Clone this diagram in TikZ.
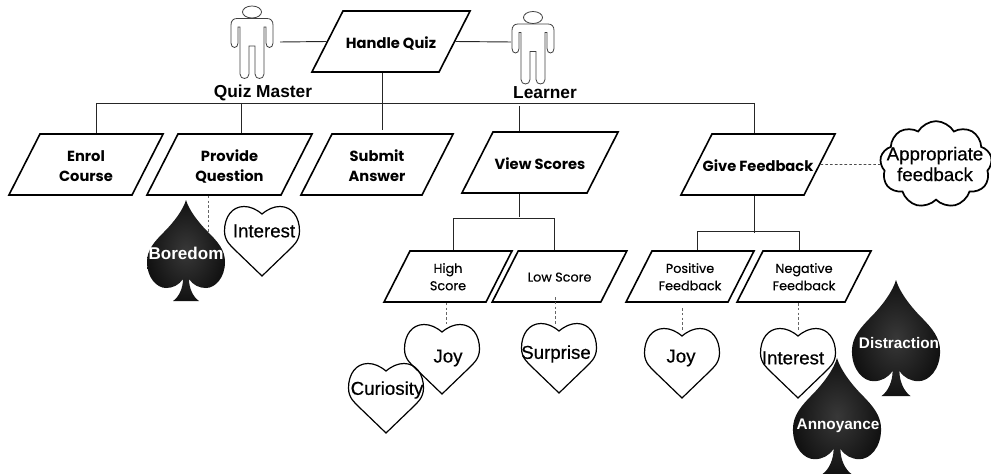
\documentclass[tikz,border=0pt]{standalone}
\usepackage{fontspec}
\setmainfont{Liberation Sans}
\newfontfamily\quizfont{Poppins}
\newfontfamily\smallfont[FakeBold=0.4]{Poppins}
\newfontfamily\emofont[FakeBold=0.5]{Liberation Sans}
\usetikzlibrary{shapes.geometric,shapes.symbols}

% fixed size body, so that all slanted sides stay alike
\newcommand{\casebody}[4]{\parbox[c][#2][c]{#1}{\vspace*{#3}\makebox[#1][c]{\begin{tabular}{@{}c@{}}#4\end{tabular}}}}
\newcommand{\bigbody}[2]{\casebody{#1}{45.75pt}{4.8pt}{#2}}
\newcommand{\smallbody}[2]{\casebody{#1}{38.25pt}{2.4pt}{#2}}

\tikzset{
  usecase/.style={trapezium,draw,line width=1.2pt,trapezium left angle=63,trapezium right angle=117,inner sep=0pt},
  bigcase/.style={usecase,font=\quizfont\bfseries\fontsize{11}{15}\selectfont},
  smallcase/.style={usecase,font=\smallfont\fontsize{9.6}{13}\selectfont},
  wire/.style={draw,line width=0.7pt,black!85},
  dashline/.style={draw,line width=0.7pt,black!60,dash pattern=on 2pt off 1.6pt},
  rolelabel/.style={font=\bfseries\fontsize{13}{15}\selectfont},
  emotext/.style={font=\emofont\fontsize{14}{16}\selectfont},
  whitetext/.style={text=white,font=\bfseries\fontsize{11.5}{14}\selectfont},
  actorman/.pic={
    \draw[black!75,line width=0.6pt] (0,0) ellipse (9.5 and 6);
    \draw[black!75,line width=0.6pt] (-15,6.5) -- (15,6.5) .. controls (19,6.5) and (21,9) .. (21,13) -- (21,31)
      .. controls (21,37) and (14,37) .. (14,31) -- (14,15) -- (12,15) -- (12,62)
      .. controls (12,68) and (3,68) .. (3,62) -- (3,34) -- (-3,34) -- (-3,62)
      .. controls (-3,68) and (-12,68) .. (-12,62) -- (-12,15) -- (-14,15) -- (-14,31)
      .. controls (-14,37) and (-21,37) .. (-21,31) -- (-21,13) .. controls (-21,9) and (-19,6.5) .. (-15,6.5) -- cycle;
  },
  heartsym/.pic={
    \draw[line width=0.9pt] (0,0) .. controls (6,-5) and (12,-7.5) .. (18,-7.5) .. controls (30,-7.5) and (37.5,3) .. (37.5,17)
      .. controls (37.5,27) and (31,32) .. (27,36) -- (0,62) -- (-27,36)
      .. controls (-31,32) and (-37.5,27) .. (-37.5,17) .. controls (-37.5,3) and (-30,-7.5) .. (-18,-7.5)
      .. controls (-12,-7.5) and (-6,-5) .. (0,0) -- cycle;
  },
  spadesym/.pic={
    \shade[inner color=black!78,outer color=black!93] (0,0) .. controls (3,10) and (12,22) .. (22,32)
      .. controls (32,42) and (39,50) .. (39,62) .. controls (39,78) and (29,88) .. (20,88)
      .. controls (13,88) and (7,85) .. (3,79) .. controls (3,88) and (7,97) .. (13,101) -- (-13,101)
      .. controls (-7,97) and (-3,88) .. (-3,79) .. controls (-7,85) and (-13,88) .. (-20,88)
      .. controls (-29,88) and (-39,78) .. (-39,62) .. controls (-39,50) and (-32,42) .. (-22,32)
      .. controls (-12,22) and (-3,10) .. (0,0) -- cycle;
  }
}

\begin{document}
\begin{tikzpicture}[x=0.75pt,y=-0.75pt]
\useasboundingbox (0,0) rectangle (991,474);

 % Use cases

\node[bigcase] (handle) at (391,41.5) {\bigbody{72pt}{Handle Quiz}};
\node[bigcase] (enrol) at (86,164.5) {\bigbody{69pt}{Enrol\\Course}};
\node[bigcase] (provide) at (229.5,164.5) {\bigbody{77.25pt}{Provide\\Question}};
\node[bigcase] (submit) at (377,164.5) {\bigbody{67.5pt}{Submit\\Answer}};
\node[bigcase] (view) at (540,162.5) {\bigbody{70.5pt}{View Scores}};
\node[bigcase] (give) at (758,164.5) {\bigbody{69pt}{Give Feedback}};

\node[smallcase] (high) at (448,276.5) {\smallbody{57pt}{High\\Score}};
\node[smallcase] (low) at (559.5,276.5) {\smallbody{62pt}{Low Score}};
\node[smallcase] (positive) at (690,276.5) {\smallbody{57pt}{Positive\\Feedback}};
\node[smallcase] (negative) at (804,276.5) {\smallbody{61.5pt}{Negative\\Feedback}};

% Actors
\pic (master) at (252,12) {actorman};
\pic (learner) at (533,17.5) {actorman};
\node[rolelabel] (masterlabel) at (263,93) {Quiz Master};
\node[rolelabel] (learnerlabel) at (545,93) {Learner};

\coordinate (masterhand) at (280,42);
\coordinate (learnerhand) at (511,42);
\coordinate (busleft) at (96.5,103);
\coordinate (busprovide) at (241,103);
\coordinate (busright) at (754,103);
\coordinate (busview) at (519,106);
\coordinate (submittop) at (382,130);
\coordinate (scoresplit) at (519,217);
\coordinate (scoreleft) at (453,218);
\coordinate (scoreright) at (554,218);
\coordinate (feedsplit) at (754,233);
\coordinate (feedleft) at (697,231);
\coordinate (feedright) at (799.5,231);

% Connect nodes
\draw[wire] (masterhand) -- (handle.left side);
\draw[wire] (handle.right side) -- (learnerhand);
\draw[wire] (busleft) -- (busright);
\draw[wire] (busleft) -- (busleft |- enrol.north);
\draw[wire] (busprovide) -- (busprovide |- provide.north);
\draw[wire] (handle.south -| submittop) -- (submittop);
\draw[wire] (busview) -- (busview |- view.north);
\draw[wire] (busright) -- (busright |- give.north);
\draw[wire] (view.south -| scoresplit) -- (scoresplit);
\draw[wire] (high.north -| scoreleft) -- (scoreleft) -- (scoreright) -- (low.north -| scoreright);
\draw[wire] (give.south -| feedsplit) -- (feedsplit);
\draw[wire] (positive.north -| feedleft) -- (feedleft) -- (feedright) -- (negative.north -| feedright);

% Emotions
\pic (interesta) at (262,214) {heartsym};
\pic (joya) at (442,332) {heartsym};
\pic (curiosity) at (386,371) {heartsym};
\pic (surprise) at (559,331) {heartsym};
\pic (joyb) at (682,336) {heartsym};
\pic (interestb) at (798,336) {heartsym};

\coordinate (dashbored) at (208,232);
\coordinate (dashjoya) at (446,324);
\coordinate (dashlowtop) at (555,297);
\coordinate (dashsurprise) at (555,325);
\coordinate (dashpostop) at (682,308);
\coordinate (dashjoyb) at (682,331);
\coordinate (dashnegtop) at (798,303);
\coordinate (dashinterest) at (798,331);

\draw[dashline] (provide.south -| dashbored) -- (dashbored);
\draw[dashline] (high.south -| dashjoya) -- (dashjoya);
\draw[dashline] (dashlowtop) -- (dashsurprise);
\draw[dashline] (dashpostop) -- (dashjoyb);
\draw[dashline] (dashnegtop) -- (dashinterest);

\pic (boredom) at (186,200) {spadesym};
\pic[xscale=1.13,yscale=1.15] (distraction) at (896,280) {spadesym};
\pic[xscale=1.13,yscale=1.15] (annoyance) at (837,358) {spadesym};

\node[emotext] (interestatext) at (264,231) {Interest};
\node[emotext] (joyatext) at (448,358) {Joy};
\node[emotext] (curiositytext) at (387,390) {Curiosity};
\node[emotext] (surprisetext) at (556,354) {Surprise};
\node[emotext] (joybtext) at (681,358) {Joy};
\node[emotext] (interestbtext) at (793,358) {Interest};

\node[whitetext,font=\bfseries\fontsize{12.8}{14}\selectfont] (boredomtext) at (186,253) {Boredom};
\node[whitetext] (distractiontext) at (899,343) {Distraction};
\node[whitetext] (annoyancetext) at (838,426) {Annoyance};

% Cloud
\node[cloud,draw,line width=1.3pt,cloud puffs=9,cloud puff arc=120,aspect=1.3,minimum width=84pt,minimum height=65pt,inner sep=0pt] (cloudfb) at (936,164.5) {};
\node[emotext,align=center,font=\emofont\fontsize{14}{15.5}\selectfont] (cloudtext) at (935,164) {Appropriate\\feedback};
\draw[dashline,black!70] (give.right side) -- (cloudfb.west);

\end{tikzpicture}
\end{document}
